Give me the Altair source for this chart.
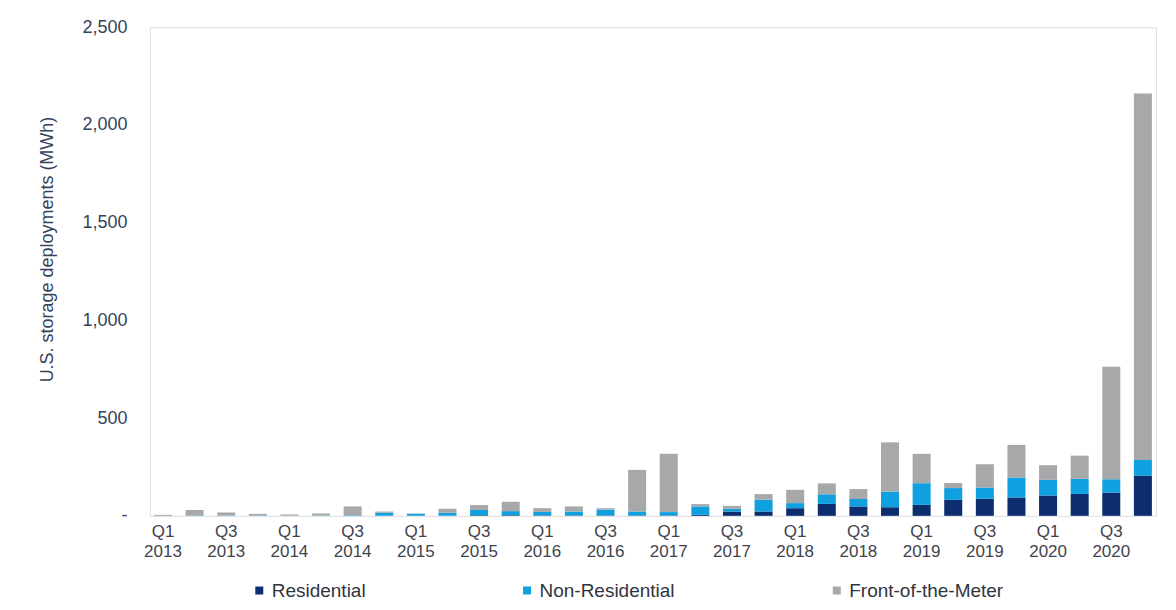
import altair as alt
import pandas as pd

quarters = [
    "Q1 2013", "Q2 2013", "Q3 2013", "Q4 2013",
    "Q1 2014", "Q2 2014", "Q3 2014", "Q4 2014",
    "Q1 2015", "Q2 2015", "Q3 2015", "Q4 2015",
    "Q1 2016", "Q2 2016", "Q3 2016", "Q4 2016",
    "Q1 2017", "Q2 2017", "Q3 2017", "Q4 2017",
    "Q1 2018", "Q2 2018", "Q3 2018", "Q4 2018",
    "Q1 2019", "Q2 2019", "Q3 2019", "Q4 2019",
    "Q1 2020", "Q2 2020", "Q3 2020", "Q4 2020",
]
residential = [0, 0, 0, 0, 0, 0, 0, 1, 1, 1, 3, 3, 2, 2, 2, 2,
               2, 5, 22, 22, 39, 61, 48, 44, 56, 82, 87, 94, 104, 112, 119, 206]
non_residential = [0, 2, 2, 2, 1, 2, 3, 15, 9, 15, 27, 21, 18, 20, 30, 20,
                   17, 43, 14, 60, 26, 49, 38, 80, 111, 60, 58, 102, 80, 77, 68, 80]
front_of_meter = [5, 28, 15, 8, 6, 10, 45, 6, 2, 20, 25, 48, 19, 26, 7, 213,
                  298, 12, 15, 29, 68, 56, 51, 252, 150, 26, 119, 167, 75, 119, 576, 1875]

segments = ["Residential", "Non-Residential", "Front-of-the-Meter"]
colors = ["#0c2d6e", "#0ea0df", "#a7a8aa"]

rows = []
for i, q in enumerate(quarters):
    for k, (seg, vals) in enumerate(zip(segments, [residential, non_residential, front_of_meter])):
        rows.append({"quarter": q, "segment": seg, "value": vals[i], "idx": k})
df = pd.DataFrame(rows)

FONT = "Liberation Sans, Arial, sans-serif"
AXIS_COLOR = "#34435b"

chart = alt.Chart(df).mark_bar().encode(
    x=alt.X(
        "quarter:N", sort=quarters,
        scale=alt.Scale(paddingInner=0.43, paddingOuter=0.13),
        axis=alt.Axis(
            title=None, labelAngle=0, ticks=False, domain=False, grid=False,
            labelExpr="(substring(datum.label, 0, 2) == 'Q1' || substring(datum.label, 0, 2) == 'Q3') ? split(datum.label, ' ') : ''",
            labelFontSize=17, labelColor="#3f434d", labelFont=FONT,
            labelPadding=8, labelOverlap=False, labelLineHeight=20,
            labelBaseline="top",
        ),
    ),
    y=alt.Y(
        "value:Q", stack="zero",
        scale=alt.Scale(domain=[0, 2500], nice=False),
        axis=alt.Axis(
            values=[0, 500, 1000, 1500, 2000, 2500],
            labelExpr="datum.value == 0 ? '-' : format(datum.value, ',')",
            ticks=False, domain=False, grid=False,
            labelFontSize=18, labelColor=AXIS_COLOR, labelFont=FONT, labelPadding=23,
            title="U.S. storage deployments (MWh)",
            titleFontSize=18, titleFontWeight="normal", titleColor=AXIS_COLOR, titleFont=FONT,
            titleX=-102, titleY=222, titleAngle=-90, titleAlign="center", titleBaseline="middle",
        ),
    ),
    color=alt.Color(
        "segment:N",
        scale=alt.Scale(domain=segments, range=colors),
        legend=alt.Legend(
            title=None, orient="none", legendX=100, legendY=554,
            direction="horizontal", symbolType="square", symbolSize=64,
            symbolStrokeWidth=0, labelFontSize=19, labelColor="#30343f", labelFont=FONT,
            labelOffset=3, columnPadding=152,
        ),
    ),
    order=alt.Order("idx:Q"),
).properties(
    width=1007, height=489,
    autosize=alt.AutoSizeParams(type="none"),
    padding={"left": 142, "top": 19, "right": 12, "bottom": 90},
).configure_view(
    fill="#f2f2f2", stroke=None,
).configure(background="white")

chart.save("out.html", embed_options={"renderer": "svg", "actions": False})
